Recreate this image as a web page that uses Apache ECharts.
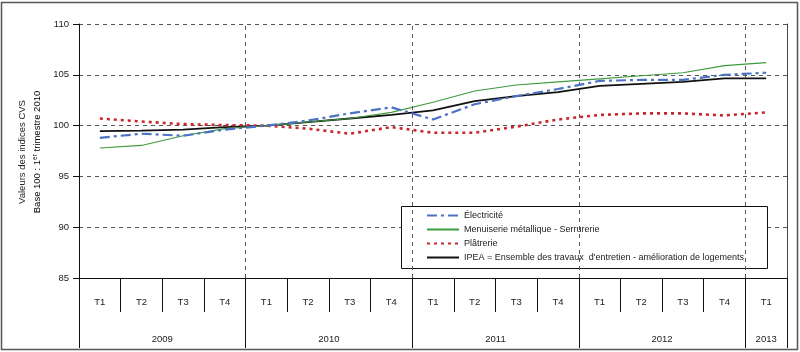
<!DOCTYPE html>
<html>
<head>
<meta charset="utf-8">
<script src="https://cdn.jsdelivr.net/npm/echarts@6.0.0/dist/echarts.min.js"></script>
<style>
  html, body { margin: 0; padding: 0; background: #fff; }
  #chart { width: 800px; height: 352px; }
</style>
</head>
<body>
<div id="chart"></div>
<script>
// trimestres / années
var quarters = ['T1', 'T2', 'T3', 'T4', 'T1', 'T2', 'T3', 'T4', 'T1', 'T2', 'T3', 'T4', 'T1', 'T2', 'T3', 'T4', 'T1']
var years = ['2009', '2010', '2011', '2012', '2013']
var yearStart = [0, 4, 8, 12, 16]
var yearSpan = [4, 4, 4, 4, 1]

var electricite = [98.8, 99.2, 99.0, 99.6, 100, 100.5, 101.2, 101.8, 100.6, 102.1, 102.9, 103.6, 104.4, 104.5, 104.5, 105.0, 105.2]
var menuiserie = [97.8, 98.05, 99.0, 99.7, 100, 100.35, 100.7, 101.3, 102.3, 103.4, 104.0, 104.3, 104.6, 104.9, 105.2, 105.9, 106.2]
var platrerie = [100.7, 100.4, 100.15, 100.05, 100, 99.7, 99.2, 99.85, 99.3, 99.3, 99.9, 100.6, 101.05, 101.2, 101.2, 101.0, 101.3]
var ipea = [99.45, 99.5, 99.6, 99.85, 100, 100.35, 100.7, 101.05, 101.5, 102.4, 102.9, 103.3, 103.9, 104.1, 104.3, 104.65, 104.65]

var seriesNames = ['Électricité', 'Menuiserie métallique - Serrurerie', 'Plâtrerie', "IPEA = Ensemble des travaux  d'entretien - amélioration de logements"]

var font = "'Liberation Sans', sans-serif"
var textColor = '#222'
var gridColor = '#555'

// bornes des années et position des libellés
var yearTicks = yearStart.concat([quarters.length])
var yearLabelPos = yearStart.map(function (s, i) { return s + yearSpan[i] / 2 })

let myChart = echarts.init(document.getElementById('chart'))

let option = {
  animation: false,
  backgroundColor: '#fff',
  textStyle: { fontFamily: font },
  grid: { left: 79, right: 13, top: 24, bottom: 74 },
  legend: {
    orient: 'vertical',
    left: 401,
    top: 208,
    padding: [3, 8, 3, 25],
    itemWidth: 32,
    itemHeight: 10,
    itemGap: 5,
    z: 4,
    itemStyle: { opacity: 0 },
    textStyle: { fontFamily: font, fontSize: 9, color: textColor },
    data: seriesNames
  },
  graphic: [
    {
      type: 'rect',
      z: 3,
      shape: { x: 401.5, y: 206.5, width: 366, height: 62 },
      style: { fill: '#fff', stroke: '#111', lineWidth: 1 }
    },
    {
      type: 'rect',
      z: 0,
      silent: true,
      shape: { x: 1.5, y: 2.5, width: 796, height: 347 },
      style: { fill: 'none', stroke: '#555', lineWidth: 1.5 }
    },
    {
      type: 'text',
      x: 22, y: 152, rotation: Math.PI / 2,
      style: {
        text: 'Valeurs des indices CVS',
        font: '9.5px ' + font, fill: textColor,
        align: 'center', verticalAlign: 'middle'
      }
    },
    {
      type: 'text',
      x: 37, y: 152, rotation: Math.PI / 2,
      style: {
        text: '{a|Base 100 : 1}{s|er}{a| trimestre 2010}',
        align: 'center', verticalAlign: 'middle',
        rich: {
          a: { fontFamily: font, fontSize: 9.5, color: textColor },
          s: { fontFamily: font, fontSize: 6.5, color: textColor, verticalAlign: 'top', padding: [0, 0, 4, 0] }
        }
      }
    }
  ],
  xAxis: [
    {
      type: 'category',
      position: 'bottom',
      data: quarters,
      axisLine: { lineStyle: { color: '#111', width: 1 } },
      axisTick: { show: true, interval: 0, length: 34, lineStyle: { color: '#111' } },
      axisLabel: { interval: 0, margin: 19, fontSize: 9.5, color: textColor, fontFamily: font },
      splitLine: { show: false }
    },
    {
      type: 'value',
      position: 'bottom',
      min: 0,
      max: quarters.length,
      axisLine: { show: false },
      axisTick: { show: true, length: 70, customValues: yearTicks, lineStyle: { color: '#111' } },
      axisLabel: {
        margin: 56, fontSize: 9.5, color: textColor, fontFamily: font,
        customValues: yearLabelPos,
        formatter: function (v) {
          let i = yearLabelPos.indexOf(v)
          return i >= 0 ? years[i] : ''
        }
      },
      splitLine: { show: false }
    }
  ],
  yAxis: [
    {
      type: 'value',
      min: 85,
      max: 110,
      interval: 5,
      axisLine: { show: true, lineStyle: { color: '#111' } },
      axisTick: { show: true, length: 6, lineStyle: { color: '#111' } },
      axisLabel: { margin: 10, fontSize: 9.5, color: textColor, fontFamily: font },
      splitLine: { show: true, lineStyle: { color: gridColor, type: [4, 4], width: 1 } }
    },
    {
      type: 'value',
      position: 'right',
      min: 85,
      max: 110,
      interval: 5,
      axisLine: { show: true, lineStyle: { color: '#444' } },
      axisTick: { show: false },
      axisLabel: { show: false },
      splitLine: { show: false }
    }
  ],
  series: [
    {
      // traits verticaux pointillés aux changements d'année
      type: 'line',
      xAxisIndex: 1,
      yAxisIndex: 0,
      data: [],
      silent: true,
      markLine: {
        silent: true,
        symbol: 'none',
        label: { show: false },
        lineStyle: { color: gridColor, type: [4, 4], width: 1 },
        data: yearStart.slice(1).map(function (v) { return { xAxis: v } })
      }
    },
    {
      name: seriesNames[0],
      type: 'line',
      symbol: 'none',
      data: electricite,
      lineStyle: { color: '#4a72c6', width: 2.2, type: [10, 4, 3, 4] },
      itemStyle: { color: '#4a72c6' },
      z: 5
    },
    {
      name: seriesNames[1],
      type: 'line',
      symbol: 'none',
      data: menuiserie,
      lineStyle: { color: '#3c9a3c', width: 1.1 },
      itemStyle: { color: '#3c9a3c' },
      z: 4
    },
    {
      name: seriesNames[2],
      type: 'line',
      symbol: 'none',
      data: platrerie,
      lineStyle: { color: '#c8262c', width: 2.6, type: [3, 4] },
      itemStyle: { color: '#c8262c' },
      z: 4
    },
    {
      name: seriesNames[3],
      type: 'line',
      symbol: 'none',
      data: ipea,
      lineStyle: { color: '#111', width: 1.8 },
      itemStyle: { color: '#111' },
      z: 3
    }
  ]
}

myChart.setOption(option, true)
window.addEventListener('resize', function () {
  myChart.resize()
})
</script>
</body>
</html>
